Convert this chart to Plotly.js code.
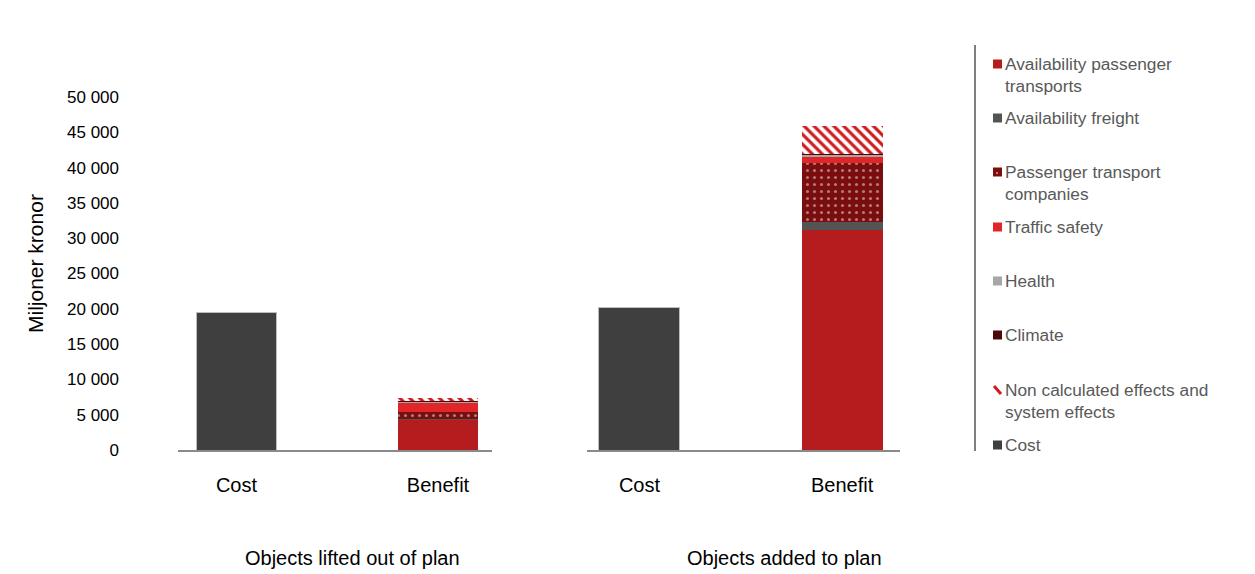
<!DOCTYPE html>
<html>
<head>
<meta charset="utf-8">
<script src="https://cdn.plot.ly/plotly-3.0.1.min.js"></script>
<style>html,body{margin:0;padding:0;background:#fff;}#chart{width:1255px;height:574px;}</style>
</head>
<body>
<div id="chart"></div>
<script>
// ---- data ----
const groups = ['Objects lifted out of plan', 'Objects added to plan'];
const categories = ['Cost', 'Benefit'];
const costValues = [19500, 20250];
const availPassenger = [4200, 31200];
const availFreight = [150, 1100];
const ptCompanies = [1000, 8300];
const trafficSafety = [1300, 850];
const health = [200, 400];
const climate = [50, 100];
const nonCalculated = [400, 4000];
const legendLabels = [
  'Availability passenger<br>transports',
  'Availability freight',
  'Passenger transport<br>companies',
  'Traffic safety',
  'Health',
  'Climate',
  'Non calculated effects and<br>system effects',
  'Cost'
];

// ---- styles ----
const W = 1255, H = 574;
const px = x => x / W;
const py = y => 1 - y / H;
const BW = 0.4;
const FONT = 'Liberation Sans, Arial, sans-serif';

const series = [
  {name: legendLabels[0], vals: availPassenger, marker: {color: '#b41c1d'}},
  {name: legendLabels[1], vals: availFreight, marker: {color: '#545454'}},
  {name: legendLabels[2], vals: ptCompanies, marker: {color: '#7a0d0d', pattern: {shape: '.', bgcolor: '#7a0d0d', fgcolor: '#ffffff', fgopacity: 0.45, size: 7, solidity: 0.15}}},
  {name: legendLabels[3], vals: trafficSafety, marker: {color: '#e1262a'}},
  {name: legendLabels[4], vals: health, marker: {color: '#a6a6a6'}},
  {name: legendLabels[5], vals: climate, marker: {color: '#4b0a0a'}},
  {name: legendLabels[6], vals: nonCalculated, marker: {color: '#ffffff', pattern: {shape: '\\', bgcolor: '#ffffff', fgcolor: '#d0191d', fgopacity: 1, size: 7, solidity: 0.45}}}
];

const traces = [];
['x', 'x2'].forEach((xa, g) => {
  traces.push({
    type: 'bar', x: [categories[0]], y: [costValues[g]], xaxis: xa, yaxis: 'y',
    width: BW, marker: {color: '#3f3f3f', line: {width: 1, color: '#bdbdbd'}},
    name: legendLabels[7], showlegend: false, hoverinfo: 'skip'
  });
  series.forEach(s => {
    traces.push({
      type: 'bar', x: [categories[1]], y: [s.vals[g]], xaxis: xa, yaxis: 'y',
      width: BW, marker: Object.assign({line: {width: 0}}, s.marker),
      name: s.name, showlegend: false, hoverinfo: 'skip'
    });
  });
});

const xBase = {
  type: 'category', categoryorder: 'array', categoryarray: categories,
  showline: true, linecolor: '#8a8a8a', linewidth: 2, showgrid: false, zeroline: false,
  ticks: '', ticklabelstandoff: 16, tickfont: {family: FONT, size: 20, color: '#000'},
  anchor: 'y', fixedrange: true
};

const layout = {
  width: W, height: H,
  margin: {l: 0, r: 0, t: 0, b: 0},
  paper_bgcolor: '#fff', plot_bgcolor: '#fff',
  barmode: 'stack', showlegend: false,
  separators: ', ',
  font: {family: FONT},
  xaxis: Object.assign({}, xBase, {domain: [px(178), px(492)], range: [-0.29, 1.268]}),
  xaxis2: Object.assign({}, xBase, {domain: [px(587), px(900)], range: [-0.259, 1.286]}),
  yaxis: {
    domain: [py(450), py(97)], range: [0, 50000], dtick: 5000, tickformat: ',d',
    showgrid: false, zeroline: false, showline: false, ticks: '',
    ticklabelstandoff: 58, tickfont: {family: FONT, size: 17, color: '#000'}, fixedrange: true
  },
  annotations: [],
  shapes: [
    {type: 'line', xref: 'paper', yref: 'paper', x0: px(975), x1: px(975), y0: py(45), y1: py(451), line: {color: '#7f7f7f', width: 2}}
  ]
};

// y title
layout.annotations.push({
  text: 'Miljoner kronor', xref: 'paper', yref: 'paper', x: px(35), y: py(264),
  xanchor: 'center', yanchor: 'middle', textangle: -90, showarrow: false,
  font: {family: FONT, size: 21, color: '#000'}
});
// group labels
[352, 784].forEach((cx, i) => {
  layout.annotations.push({
    text: groups[i], xref: 'paper', yref: 'paper', x: px(cx), y: py(558),
    xanchor: 'center', yanchor: 'middle', showarrow: false,
    font: {family: FONT, size: 20, color: '#000'}
  });
});

// legend (manual)
const legendY = [64, 118, 172, 227, 281, 335, 390, 445];
const swatchColors = ['#b41c1d', '#545454', '#7a0d0d', '#e1262a', '#a6a6a6', '#4b0a0a', null, '#3f3f3f'];
legendLabels.forEach((lab, i) => {
  const yc = legendY[i];
  layout.annotations.push({
    text: lab, xref: 'paper', yref: 'paper', x: px(1003), y: py(yc - 12),
    xanchor: 'left', yanchor: 'top', align: 'left', showarrow: false,
    font: {family: FONT, size: 17.3, color: '#595959'}
  });
  if (swatchColors[i]) {
    layout.shapes.push({type: 'rect', xref: 'paper', yref: 'paper',
      x0: px(993), x1: px(1002), y0: py(yc + 4.5), y1: py(yc - 4.5),
      fillcolor: swatchColors[i], line: {width: 0}});
  } else {
    layout.shapes.push({type: 'line', xref: 'paper', yref: 'paper',
      x0: px(994), x1: px(1001), y0: py(yc - 4), y1: py(yc + 4),
      line: {color: '#d0191d', width: 3}});
  }
  if (i === 2) {
    layout.shapes.push({type: 'circle', xref: 'paper', yref: 'paper',
      x0: px(996), x1: px(998), y0: py(yc + 2), y1: py(yc), fillcolor: '#d9a0a0', line: {width: 0}});
  }
});

Plotly.newPlot('chart', traces, layout, {staticPlot: true, displayModeBar: false});
</script>
</body>
</html>
